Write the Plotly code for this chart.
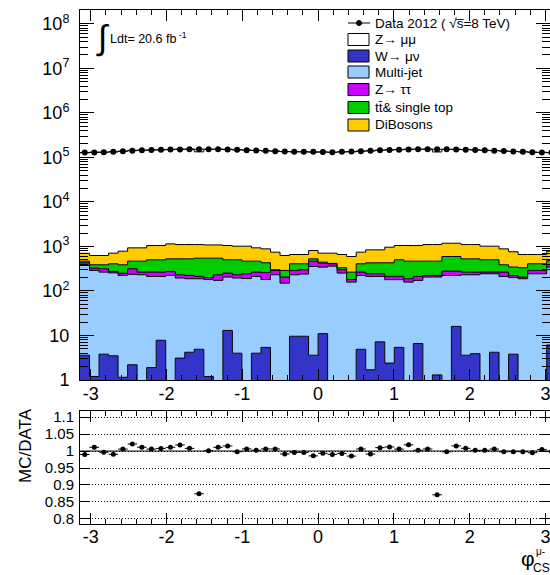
import numpy as np
import plotly.graph_objects as go

# ---------------------------------------------------------------- data
n_bins = 50
edges = np.linspace(-np.pi, np.pi, n_bins + 1)
centers = 0.5 * (edges[:-1] + edges[1:])
half_width = 0.5 * (edges[1] - edges[0])

data_2012 = [128000, 129500, 131000, 134000, 137000, 141000, 144000, 146000, 147500, 149500,
             151000, 152000, 152500, 152000, 151500, 150000, 148000, 145500, 143000, 140000,
             137500, 135500, 134000, 133500, 133000, 132500, 131000, 133500, 135000, 137500,
             141000, 144000, 146500, 148500, 150500, 152000, 152500, 152000, 151500, 150500,
             149000, 146500, 144000, 141500, 139000, 136000, 133500, 131000, 129000, 128000]

w_munu = [3.6, 1.2, 3.8, 3.5, 1.15, 2.2, 0, 1.9, 7.8, 0,
          3.1, 4.2, 4.9, 1.2, 0, 13, 4.0, 0, 4.0, 5.4,
          0, 0, 9.6, 9.6, 3.6, 11, 0, 0, 0, 4.9,
          1.7, 7.2, 2.4, 5.4, 0, 6.6, 0, 1.3, 0, 16,
          3.6, 3.9, 0, 4.2, 0, 3.8, 0, 0, 0, 6.1]

multijet = [370, 288, 261, 251, 222, 234, 231, 210, 204, 223,
            192, 184, 183, 179, 173, 192, 191, 190, 208, 175,
            231, 150, 221, 230, 351, 332, 361, 252, 158, 218,
            210, 205, 177, 174, 158, 166, 205, 204, 223, 207,
            227, 227, 243, 239, 212, 196, 188, 243, 243, 337]

z_tautau = [55, 37, 50, 20, 27, 79, 34, 53, 53, 51,
            36, 35, 24, 18, 58, 47, 36, 53, 53, 78,
            58, 55, 58, 59, 112, 79, 47, 47, 22, 42,
            31, 31, 33, 33, 30, 39, 18, 18, 56, 56,
            34, 34, 22, 22, 53, 20, 17, 46, 46, 51]

ttbar_single_top = [38, 61, 72, 133, 137, 152, 202, 236, 236, 253,
                    296, 304, 333, 347, 314, 249, 270, 224, 202, 172,
                    11, 84, 119, 109, 60, 22, 7, 33, 85, 143,
                    186, 186, 217, 289, 279, 255, 244, 244, 315, 315,
                    262, 262, 236, 236, 122, 125, 127, 119, 119, 90]

dibosons = [233, 239, 239, 298, 395, 462, 462, 546, 546, 614,
            575, 575, 557, 535, 535, 546, 511, 545, 463, 452,
            443, 337, 251, 251, 283, 262, 291, 327, 329, 335,
            409, 409, 532, 546, 580, 580, 635, 635, 587, 587,
            575, 575, 511, 511, 495, 415, 327, 251, 251, 298]

z_mumu = [126000, 130300, 129900, 132000, 137000, 143000, 144700, 145800, 147600, 150000,
          152600, 152100, 132200, 151100, 152100, 151200, 146700, 145400, 142400, 140000,
          137600, 133700, 132800, 132300, 130300, 130900, 129000, 131900, 132400, 137600,
          138900, 144600, 147300, 148300, 152200, 151300, 152300, 131300, 150000, 151600,
          149100, 145700, 143300, 141300, 137800, 135000, 132600, 129700, 128900, 127000]

# stack, bottom to top
stack = [
    ("W\u2192 \u03bc\u03bd", w_munu, "#3434c8"),
    ("Multi-jet", multijet, "#99ccff"),
    ("Z\u2192 \u03c4\u03c4", z_tautau, "#cc00ff"),
    ("tt\u0304& single top", ttbar_single_top, "#00cc00"),
    ("DiBosons", dibosons, "#ffcc00"),
    ("Z\u2192 \u03bc\u03bc", z_mumu, "#ffffff"),
]

data_arr = np.array(data_2012, dtype=float)
total_mc = np.sum([np.array(v, dtype=float) for _, v, _ in stack], axis=0)
ratio = total_mc / data_arr

# ---------------------------------------------------------------- figure
fig = go.Figure()

FLOOR = 0.5  # below the visible log range; empty bins drop to the frame
fig.add_trace(go.Scatter(x=edges, y=np.full(n_bins + 1, FLOOR), mode="lines",
                         line=dict(width=0, shape="hv"), showlegend=False,
                         hoverinfo="skip", xaxis="x", yaxis="y"))
cum = np.zeros(n_bins)
for name, vals, col in stack:
    cum = cum + np.array(vals, dtype=float)
    ystep = np.maximum(np.append(cum, cum[-1]), FLOOR)
    fig.add_trace(go.Scatter(x=edges, y=ystep, mode="lines", name=name,
                             line=dict(color="black", width=1, shape="hv"),
                             fill="tonexty", fillcolor=col, showlegend=False,
                             xaxis="x", yaxis="y"))

fig.add_trace(go.Scatter(x=centers, y=data_arr, mode="markers", name="Data 2012",
                         marker=dict(color="black", size=6),
                         error_x=dict(type="constant", value=half_width, width=0,
                                      thickness=1, color="black"),
                         showlegend=False, xaxis="x", yaxis="y"))

fig.add_trace(go.Scatter(x=centers, y=ratio, mode="markers", name="MC/DATA",
                         marker=dict(color="black", size=5),
                         error_x=dict(type="constant", value=half_width, width=0,
                                      thickness=1, color="black"),
                         showlegend=False, xaxis="x2", yaxis="y2"))

# ---------------------------------------------------------------- axes
W, H = 550, 575
L, R, T, B = 80, 550, 10, 524
TOP_LOW = 380      # pixel row of the main-pad bottom
RAT_HIGH = 411     # pixel row of the ratio-pad top


def px(x):
    return (x - L) / (R - L)


def py(y):
    return (B - y) / (B - T)


FONT = "Liberation Sans, Arial, sans-serif"
tick_font = dict(family=FONT, size=18, color="black")
xticks = [-3, -2, -1, 0, 1, 2, 3]
xtext = [str(v) for v in xticks]
x_range = [-np.pi, 3.06]

common_x = dict(range=x_range, showline=True, linecolor="black", linewidth=1,
                mirror="allticks", ticks="inside", ticklen=11, tickcolor="black",
                tickmode="array", tickvals=xticks, ticktext=xtext, tickfont=tick_font,
                showgrid=False, zeroline=False, ticklabeloverflow="allow",
                minor=dict(ticks="inside", ticklen=5, tickcolor="black",
                           tickmode="linear", tick0=0, dtick=0.2, showgrid=False))

decades = list(range(0, 9))
ytext = ["1", "10"] + ["10<sup>%d</sup>" % k for k in decades[2:]]
minor_log = [m * 10 ** k for k in decades for m in range(2, 10)]

fig.update_layout(
    width=W, height=H,
    margin=dict(l=L, r=W - R, t=T, b=H - B),
    paper_bgcolor="white", plot_bgcolor="white",
    xaxis=dict(common_x, domain=[0, 1], anchor="y", ticklabelstandoff=-3),
    yaxis=dict(type="log", range=[0, 8.31], domain=[py(TOP_LOW), 1], anchor="x",
               showline=True, linecolor="black", linewidth=1, mirror="allticks",
               ticks="inside", ticklen=14, tickcolor="black",
               tickmode="array", tickvals=[10 ** k for k in decades], ticktext=ytext,
               tickfont=tick_font, showgrid=False, zeroline=False, ticklabelstandoff=6,
               minor=dict(ticks="inside", ticklen=8, tickcolor="black",
                          tickmode="array", tickvals=minor_log, showgrid=False)),
    xaxis2=dict(common_x, domain=[0, 1], anchor="y2", matches="x", ticklabelstandoff=-4),
    yaxis2=dict(range=[0.785, 1.118], domain=[0, py(RAT_HIGH)], anchor="x2",
                showline=True, linecolor="black", linewidth=1, mirror="allticks",
                ticks="inside", ticklen=10, tickcolor="black",
                tickmode="array", tickvals=[0.8, 0.85, 0.9, 0.95, 1.0, 1.05, 1.1],
                ticktext=["0.8", "0.85", "0.9", "0.95", "1", "1.05", "1.1"],
                tickfont=dict(family=FONT, size=15, color="black"),
                showgrid=True, gridcolor="black", gridwidth=1, griddash="1px,2px",
                zeroline=False, ticklabelstandoff=2),
    showlegend=False,
)

# unity line in the ratio pad
fig.add_shape(type="line", xref="x2 domain", yref="y2", x0=0, x1=1, y0=1, y1=1,
              line=dict(color="black", width=1))

annotations = []
shapes = []

# luminosity label
annotations.append(dict(text="\u222b", x=px(102), y=py(37), xref="paper", yref="paper",
                        showarrow=False, font=dict(family=FONT, size=34, color="black"),
                        xanchor="center", yanchor="middle"))
annotations.append(dict(text="Ldt= 20.6 fb<sup> -1</sup>", x=px(108), y=py(38),
                        xref="paper", yref="paper", showarrow=False,
                        font=dict(family=FONT, size=12.5, color="black"),
                        xanchor="left", yanchor="middle"))

# legend
leg_font = dict(family=FONT, size=13.5, color="black")
bx0, bx1, tx = 348, 369, 373
row_y = [23, 39.5, 56, 72, 89.5, 107.5, 125]
shapes.append(dict(type="line", xref="paper", yref="paper", x0=px(bx0), x1=px(bx1 + 1),
                   y0=py(row_y[0]), y1=py(row_y[0]), line=dict(color="black", width=1)))
shapes.append(dict(type="circle", xref="paper", yref="paper", x0=px(356.5), x1=px(361.5),
                   y0=py(row_y[0] + 2.5), y1=py(row_y[0] - 2.5),
                   fillcolor="black", line=dict(color="black", width=1)))
annotations.append(dict(text="Data 2012 ( \u221as\u0305=8 TeV)",
                        x=px(tx), y=py(row_y[0]), xref="paper", yref="paper",
                        showarrow=False, font=leg_font, xanchor="left", yanchor="middle"))
legend_order = [5, 0, 1, 2, 3, 4]
for row, idx in zip(row_y[1:], legend_order):
    name, _, col = stack[idx]
    shapes.append(dict(type="rect", xref="paper", yref="paper", x0=px(bx0), x1=px(bx1),
                       y0=py(row + 6), y1=py(row - 6), fillcolor=col,
                       line=dict(color="black", width=1)))
    annotations.append(dict(text=name, x=px(tx), y=py(row), xref="paper", yref="paper",
                            showarrow=False, font=leg_font, xanchor="left", yanchor="middle"))

# axis titles
annotations.append(dict(text="MC/DATA", x=px(25), y=py(446), xref="paper", yref="paper",
                        showarrow=False, textangle=-90,
                        font=dict(family=FONT, size=17, color="black"),
                        xanchor="center", yanchor="middle"))
annotations.append(dict(text="\u03c6", x=px(528), y=py(558), xref="paper", yref="paper",
                        showarrow=False, font=dict(family=FONT, size=21, color="black"),
                        xanchor="center", yanchor="middle", borderpad=0))
annotations.append(dict(text="\u03bc-", x=px(535), y=py(551), xref="paper", yref="paper",
                        showarrow=False, font=dict(family=FONT, size=10, color="black"),
                        xanchor="left", yanchor="middle", borderpad=0))
annotations.append(dict(text="CS", x=px(532), y=py(568), xref="paper", yref="paper",
                        showarrow=False, font=dict(family=FONT, size=12, color="black"),
                        xanchor="left", yanchor="middle", borderpad=0))

fig.update_layout(annotations=annotations, shapes=list(fig.layout.shapes) + shapes)

fig.write_html("out.html")
